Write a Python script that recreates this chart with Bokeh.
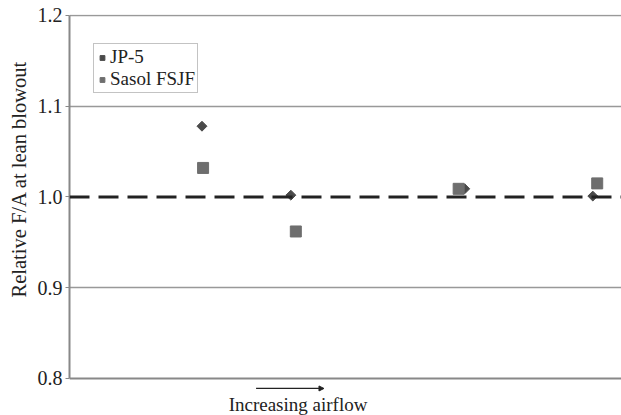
import math
from bokeh.plotting import figure
from bokeh.models import Range1d, Span, Label, Arrow, NormalHead, Legend, LegendItem, FixedTicker, Title
from bokeh.embed import file_html
from bokeh.resources import INLINE

# Data (x: relative airflow position, arbitrary units; y: relative F/A at lean blowout)
jp5_airflow = [0.240, 0.401, 0.716, 0.948]
jp5_fa = [1.078, 1.002, 1.009, 1.001]
sasol_airflow = [0.242, 0.410, 0.705, 0.956]
sasol_fa = [1.032, 0.962, 1.009, 1.015]
y_ticks = [0.8, 0.9, 1.0, 1.1, 1.2]
series_names = ["JP-5", "Sasol FSJF"]
y_label = "Relative F/A at lean blowout"
x_label = "Increasing airflow"

FONT = "Liberation Serif"
TXT = "#222222"

p = figure(width=621, height=415, output_backend="svg", toolbar_location=None,
           x_range=Range1d(0, 1), y_range=Range1d(0.7592, 1.2011),
           x_axis_location=None,
           min_border_left=68, min_border_right=0, min_border_top=14, min_border_bottom=0)
p.outline_line_color = None
p.background_fill_color = "white"

# y axis (bounded to 0.8-1.2)
p.yaxis.bounds = (0.8, 1.2)
p.yaxis.ticker = FixedTicker(ticks=y_ticks)
p.yaxis.major_label_overrides = {v: f"{v:.1f}" for v in y_ticks}
p.yaxis.major_label_text_font = FONT
p.yaxis.major_label_text_font_size = "20px"
p.yaxis.major_label_text_color = TXT
p.yaxis.axis_line_color = "#888888"
p.yaxis.axis_line_width = 2
p.yaxis.major_tick_in = 0
p.yaxis.major_tick_out = 4
p.yaxis.major_tick_line_color = "#888888"
p.yaxis.minor_tick_line_color = None
p.yaxis.major_label_standoff = 3

p.add_layout(Title(text=y_label, align="left", offset=118, text_font=FONT,
                   text_font_size="20.5px", text_font_style="normal",
                   text_color=TXT, standoff=10), "left")

p.xgrid.grid_line_color = None
p.ygrid.ticker = FixedTicker(ticks=[0.9, 1.1, 1.2])
p.ygrid.grid_line_color = "#999999"
p.ygrid.grid_line_width = 1.5

# bottom axis line at 0.8
p.add_layout(Span(location=0.8, dimension="width", line_color="#888888", line_width=2))

# reference line at 1.0
p.add_layout(Span(location=1.0, dimension="width", line_color="#222222",
                  line_width=3, line_dash="20 9"))

# data
r_jp5 = p.scatter(jp5_airflow, jp5_fa, marker="square", size=7, angle=math.pi / 4,
                  fill_color="#4a4a4a", line_color="#4a4a4a")
r_sasol = p.scatter(sasol_airflow, sasol_fa, marker="square", size=11,
                    fill_color="#6e6e6e", line_color="#6e6e6e")

legend = Legend(items=[LegendItem(label=series_names[0], renderers=[r_jp5]),
                       LegendItem(label=series_names[1], renderers=[r_sasol])],
                location=(24, 322))
legend.label_text_font = FONT
legend.label_text_font_size = "19px"
legend.label_text_color = TXT
legend.glyph_width = 12
legend.glyph_height = 19
legend.label_height = 19
legend.label_standoff = 2
legend.spacing = 0
legend.padding = 2
legend.margin = 0
legend.border_line_color = "#888888"
legend.border_line_width = 1.5
legend.background_fill_alpha = 1
p.add_layout(legend)

# x label and arrow below the axis line
p.add_layout(Arrow(end=NormalHead(size=5, fill_color=TXT, line_color=TXT),
                   x_start=0.338, y_start=0.789, x_end=0.461, y_end=0.789,
                   line_color=TXT, line_width=1.2))
p.add_layout(Label(x=0.414, y=0.7713, text=x_label, text_font=FONT,
                   text_font_size="19px", text_color=TXT,
                   text_align="center", text_baseline="alphabetic"))

open("out.html", "w").write(file_html(p, INLINE))
